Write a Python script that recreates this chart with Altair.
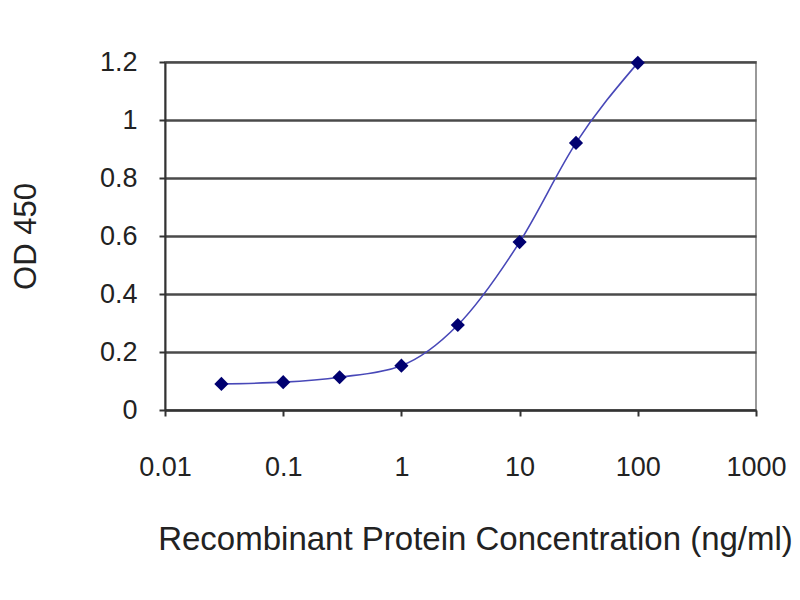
import altair as alt
import pandas as pd

conc = [0.03, 0.1, 0.3, 1, 3, 10, 30, 100]
od450 = [0.090, 0.096, 0.113, 0.153, 0.293, 0.579, 0.921, 1.197]
x_ticks = [0.01, 0.1, 1, 10, 100, 1000]
y_ticks = [0, 0.2, 0.4, 0.6, 0.8, 1.0, 1.2]

df = pd.DataFrame({"conc": conc, "od": od450})

FONT = "Liberation Sans"

x = alt.X("conc:Q",
          scale=alt.Scale(type="log", domain=[0.01, 1000], nice=False),
          axis=alt.Axis(values=x_ticks, format="~g", grid=False,
                        title="Recombinant Protein Concentration (ng/ml)",
                        labelFontSize=27, titleFontSize=33, labelFont=FONT, titleFont=FONT,
                        titleFontWeight="normal",
                        labelColor="#222", titleColor="#222",
                        labelPadding=38, titlePadding=43, tickSize=6,
                        domainColor="#333", domainWidth=2, tickColor="#333", tickWidth=2,
                        labelFlush=False, titleX=310))
y = alt.Y("od:Q",
          scale=alt.Scale(domain=[0, 1.2], nice=False),
          axis=alt.Axis(values=y_ticks, format="~g", grid=True, gridColor="#4a4a4a", gridWidth=2.5,
                        title="OD 450", labelFontSize=27, titleFontSize=31,
                        labelFont=FONT, titleFont=FONT, titleFontWeight="normal",
                        labelColor="#222", titleColor="#222",
                        labelPadding=22, tickSize=6, tickColor="#333", tickWidth=2,
                        domainColor="#333", domainWidth=2,
                        titleAngle=270, titleX=-139, titleY=174,
                        titleAlign="center", titleBaseline="middle"))

line = alt.Chart(df).mark_line(color="#4848b8", strokeWidth=1.6, interpolate="monotone").encode(x=x, y=y)
pts = alt.Chart(df).mark_point(shape="diamond", filled=True, color="#000070", size=200, opacity=1).encode(x=x, y=y)

chart = (line + pts).properties(
    width=591, height=348,
    autosize=alt.AutoSizeParams(type="none"),
    padding={"left": 157, "top": 54, "right": 36, "bottom": 176},
    background="white",
).configure_view(stroke="#999", strokeWidth=2)

chart.save("out.html", embed_options={"renderer": "svg", "actions": False})
